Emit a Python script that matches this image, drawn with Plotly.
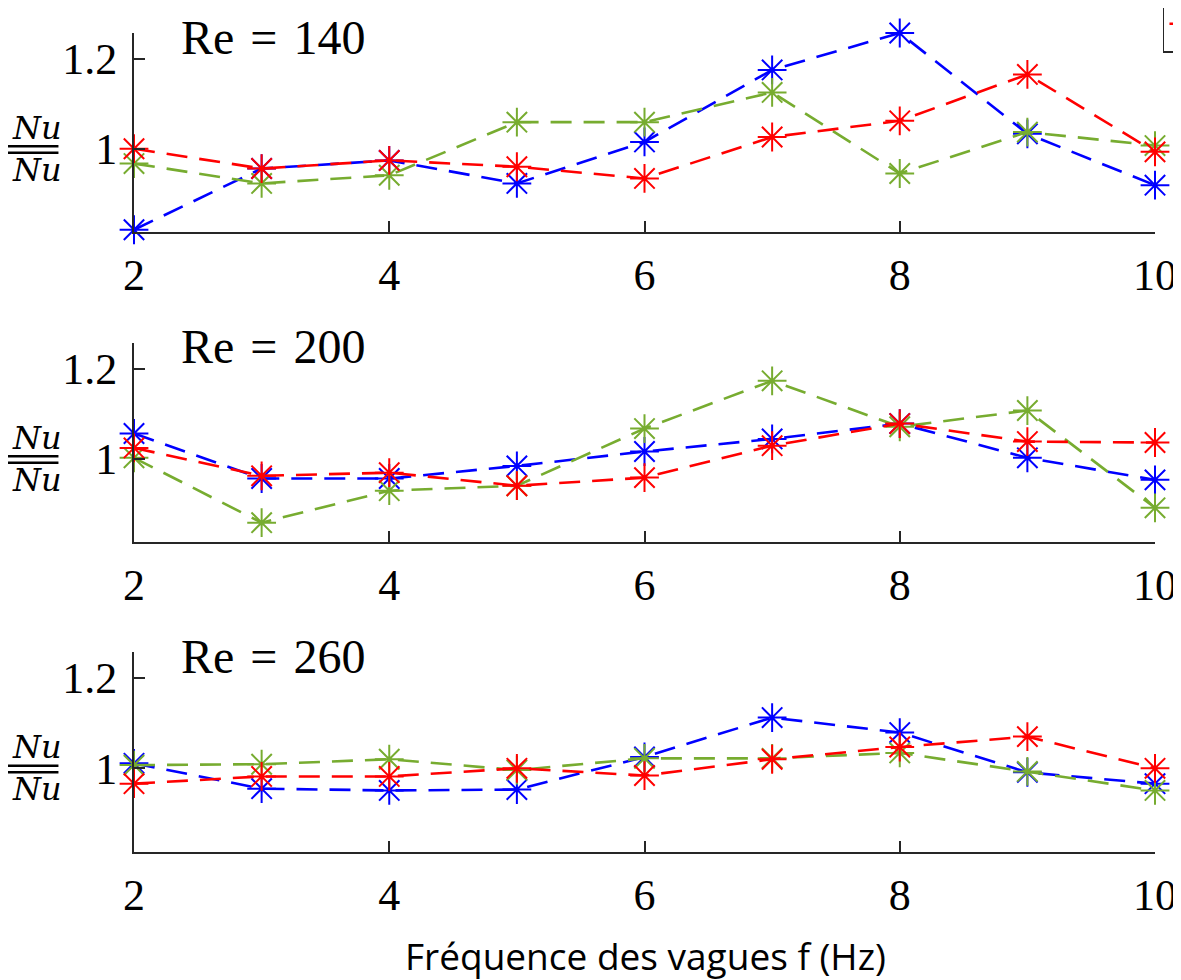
import plotly.graph_objects as go

freq = [2, 3, 4, 5, 6, 7, 8, 9, 10]
re_labels = ["Re\u2004=\u2004140", "Re\u2004=\u2004200", "Re\u2004=\u2004260"]

# Re = 140
blue_140 = [0.820, 0.956, 0.974, 0.923, 1.015, 1.175, 1.257, 1.033, 0.919]
red_140 = [1.000, 0.956, 0.974, 0.960, 0.934, 1.026, 1.062, 1.165, 0.993]
green_140 = [0.967, 0.923, 0.941, 1.059, 1.059, 1.125, 0.945, 1.037, 1.007]
# Re = 200
blue_200 = [1.056, 0.956, 0.956, 0.984, 1.016, 1.044, 1.078, 1.002, 0.953]
red_200 = [1.024, 0.962, 0.969, 0.940, 0.958, 1.029, 1.078, 1.038, 1.036]
green_200 = [1.002, 0.858, 0.929, 0.940, 1.067, 1.173, 1.071, 1.107, 0.891]
# Re = 260
blue_260 = [1.011, 0.955, 0.951, 0.953, 1.025, 1.112, 1.079, 0.991, 0.966]
red_260 = [0.966, 0.982, 0.982, 1.000, 0.984, 1.020, 1.047, 1.070, 1.000]
green_260 = [1.007, 1.009, 1.020, 0.996, 1.022, 1.022, 1.034, 0.993, 0.951]

series_names = ["", " ", "  "]  # legend text lies outside the visible page in the reference
x_ticks = [2, 4, 6, 8, 10]
y_ticks = [1, 1.2]
y_ticktext = ["1", "1.2"]
x_title = "Fréquence des vagues f (Hz)"
y_label = "<i>Nu</i><br><i>Nu</i>"

BLUE = "#0000FF"
RED = "#FF0000"
GREEN = "#77AC30"
AX = "#262626"
SERIF = "Liberation Serif, Times New Roman, serif"

panels = [
    (red_140, blue_140, green_140),
    (red_200, blue_200, green_200),
    (red_260, blue_260, green_260),
]
domains = [[0.757, 1.0], [0.3785, 0.6215], [0.0, 0.2442]]

fig = go.Figure()
for i, (r, b, g) in enumerate(panels):
    xa = "x" if i == 0 else f"x{i+1}"
    ya = "y" if i == 0 else f"y{i+1}"
    for vals, col, name, rank in [(b, BLUE, series_names[1], 2),
                                  (g, GREEN, series_names[2], 3),
                                  (r, RED, series_names[0], 1)]:
        fig.add_trace(go.Scatter(
            x=freq, y=vals, xaxis=xa, yaxis=ya, mode="lines+markers",
            name=name, showlegend=(i == 0), legendrank=rank,
            line=dict(color=col, width=2.6, dash="21px,12px"),
            marker=dict(symbol="asterisk-open", size=24,
                        line=dict(color=col, width=2), color=col),
            cliponaxis=False,
        ))

axis_common = dict(
    showline=True, linecolor=AX, linewidth=2, ticks="inside", ticklen=11,
    tickwidth=2, tickcolor=AX, showgrid=False, zeroline=False,
    tickfont=dict(family=SERIF, size=44, color="#000000"),
)
layout = dict(
    width=1173, height=972, plot_bgcolor="white", paper_bgcolor="white",
    margin=dict(l=126, r=26, t=25, b=128, autoexpand=False),
    showlegend=True,
    legend=dict(orientation="h", x=1.0078, xanchor="left", y=0.9756, yanchor="bottom",
                bordercolor=AX, borderwidth=1.5, bgcolor="white",
                font=dict(family=SERIF, size=32, color="#000000")),
)
for i in range(3):
    xk = "xaxis" if i == 0 else f"xaxis{i+1}"
    yk = "yaxis" if i == 0 else f"yaxis{i+1}"
    ya = "y" if i == 0 else f"y{i+1}"
    layout[xk] = dict(axis_common, domain=[0, 1], range=[2, 10], tickvals=x_ticks,
                      anchor=ya, ticklabelstandoff=3)
    layout[yk] = dict(axis_common, domain=domains[i], range=[0.815, 1.257],
                      tickvals=y_ticks, ticktext=y_ticktext,
                      anchor="x" if i == 0 else f"x{i+1}", ticklabelstandoff=6)
fig.update_layout(**layout)

annotations = []
shapes = []
for i in range(3):
    ya = "y" if i == 0 else f"y{i+1}"
    yd = f"{ya} domain"
    annotations.append(dict(text=re_labels[i], xref="paper", yref=yd, x=0.044, y=1.0,
                            yshift=-4, xanchor="left", yanchor="middle", showarrow=False,
                            font=dict(family=SERIF, size=48, color="#000000")))
    annotations.append(dict(text=y_label, xref="paper", yref=ya, x=-0.095, y=1,
                            xanchor="center", yanchor="middle", yshift=0,
                            showarrow=False, align="center",
                            font=dict(family="DejaVu Serif, serif", size=32, color="#000000")))
    for off in (2.5, -4):
        shapes.append(dict(type="line", xref="paper", yref=ya, ysizemode="pixel",
                           yanchor=1, x0=-0.126, x1=-0.074, y0=off, y1=off,
                           line=dict(color="#000000", width=2.5)))
annotations.append(dict(text=x_title, xref="paper", yref="paper", x=0.5005, y=-0.1258,
                        xanchor="center", yanchor="middle", showarrow=False,
                        font=dict(family="Open Sans, sans-serif", size=37, color="#000000")))
fig.update_layout(annotations=annotations, shapes=shapes)

fig.write_html("out.html")
